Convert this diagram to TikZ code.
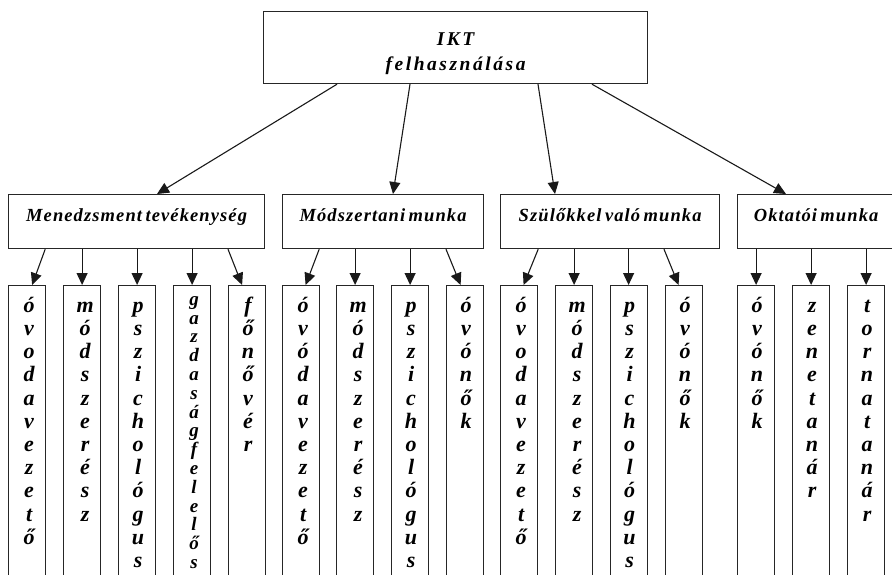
\documentclass[tikz,border=0pt]{standalone}
\usepackage{fontspec}
\setmainfont{Liberation Serif}[BoldItalicFont={Liberation Serif Bold Italic}]
\newfontfamily\topfont[LetterSpace=13]{Liberation Serif}
\newfontfamily\midfont[LetterSpace=6,WordSpace=0.6]{Liberation Serif}
\usetikzlibrary{arrows.meta,calc}
\begin{document}
\begin{tikzpicture}[x=1pt,y=-1pt,
  box/.style={draw=black!85, line width=1.2pt, inner sep=0pt, anchor=north west},
  topbox/.style={box, minimum width=384pt, minimum height=72pt, align=center,
    font=\topfont\bfseries\itshape\fontsize{19.5}{25}\selectfont},
  midbox/.style={box, minimum height=54pt, text height=12pt, text depth=12pt,
    font=\midfont\bfseries\itshape\fontsize{18.5}{22}\selectfont},
  colbox/.style={box, minimum width=37pt, minimum height=310pt},
  letters/.style={anchor=north, inner sep=0pt, align=center,
    font=\bfseries\itshape\fontsize{22}{23.2}\selectfont},
  smallletters/.style={anchor=north, inner sep=0pt, align=center,
    font=\bfseries\itshape\fontsize{19}{18.8}\selectfont},
  link/.style={line width=1.1pt, draw=black!90, -{Triangle[length=12pt,width=11pt]}}
]
\useasboundingbox (0,0) rectangle (892,574);
\clip (0,0) rectangle (892,574);

\node[topbox] (top) at (263,11) {\rule{0pt}{25pt}IKT\\felhasználása};

\node[midbox, minimum width=256pt] (m1) at (8,194) {Menedzsment tevékenység};
\node[midbox, minimum width=201pt] (m2) at (282,194) {Módszertani munka};
\node[midbox, minimum width=219pt] (m3) at (500,194) {Szülőkkel való munka};
\node[midbox, minimum width=157pt] (m4) at (737,194) {Oktatói munka};

\foreach \n/\x in {a1/8,a2/63,a3/118,a4/173,a5/228,b1/282,b2/336,b3/391,b4/446,
                   c1/500,c2/555,c3/609.5,c4/665,d1/737,d2/792,d3/847}
  \node[colbox] (\n) at (\x,285) {};

% letters
\node[letters] (ta1) at ($(a1.north)+(2,11)$) {\rule{0pt}{16pt}ó\\v\\o\\d\\a\\v\\e\\z\\e\\t\\ő};
\node[letters] (ta2) at ($(a2.north)+(3,11)$) {\rule{0pt}{16pt}m\\ó\\d\\s\\z\\e\\r\\é\\s\\z};
\node[letters] (ta3) at ($(a3.north)+(1,11)$) {\rule{0pt}{16pt}p\\s\\z\\i\\c\\h\\o\\l\\ó\\g\\u\\s};
\node[smallletters] (ta4) at ($(a4.north)+(2,7)$) {\rule{0pt}{13pt}g\\a\\z\\d\\a\\s\\á\\g\\f\\e\\l\\e\\l\\ő\\s};
\node[letters] (ta5) at ($(a5.north)+(1,11)$) {\rule{0pt}{16pt}f\\ő\\n\\ő\\v\\é\\r};

\node[letters] (tb1) at ($(b1.north)+(2,11)$) {\rule{0pt}{16pt}ó\\v\\ó\\d\\a\\v\\e\\z\\e\\t\\ő};
\node[letters] (tb2) at ($(b2.north)+(3,11)$) {\rule{0pt}{16pt}m\\ó\\d\\s\\z\\e\\r\\é\\s\\z};
\node[letters] (tb3) at ($(b3.north)+(1,11)$) {\rule{0pt}{16pt}p\\s\\z\\i\\c\\h\\o\\l\\ó\\g\\u\\s};
\node[letters] (tb4) at ($(b4.north)+(1,11)$) {\rule{0pt}{16pt}ó\\v\\ó\\n\\ő\\k};

\node[letters] (tc1) at ($(c1.north)+(2,11)$) {\rule{0pt}{16pt}ó\\v\\o\\d\\a\\v\\e\\z\\e\\t\\ő};
\node[letters] (tc2) at ($(c2.north)+(3,11)$) {\rule{0pt}{16pt}m\\ó\\d\\s\\z\\e\\r\\é\\s\\z};
\node[letters] (tc3) at ($(c3.north)+(1,11)$) {\rule{0pt}{16pt}p\\s\\z\\i\\c\\h\\o\\l\\ó\\g\\u\\s};
\node[letters] (tc4) at ($(c4.north)+(1,11)$) {\rule{0pt}{16pt}ó\\v\\ó\\n\\ő\\k};

\node[letters] (td1) at ($(d1.north)+(1,11)$) {\rule{0pt}{16pt}ó\\v\\ó\\n\\ő\\k};
\node[letters] (td2) at ($(d2.north)+(1,11)$) {\rule{0pt}{16pt}z\\e\\n\\e\\t\\a\\n\\á\\r};
\node[letters] (td3) at ($(d3.north)+(1,11)$) {\rule{0pt}{16pt}t\\o\\r\\n\\a\\t\\a\\n\\á\\r};

% top connectors
\draw[link] ($(top.south west)+(74,0)$) -- ($(m1.north west)+(149,0)$);
\draw[link] ($(top.south west)+(147,0)$) -- ($(m2.north west)+(111,0)$);
\draw[link] ($(top.south west)+(275,0)$) -- ($(m3.north west)+(55,0)$);
\draw[link] ($(top.south west)+(329,0)$) -- ($(m4.north west)+(49,0)$);

% second level connectors
\draw[link] ($(a1.east |- m1.south)+(-1,0)$) -- ($(a1.north)+(5,0)$);
\draw[link] (a2 |- m1.south) -- (a2.north);
\draw[link] (a3 |- m1.south) -- (a3.north);
\draw[link] (a4 |- m1.south) -- (a4.north);
\draw[link] (a5.west |- m1.south) -- ($(a5.north)+(-5,0)$);

\draw[link] ($(b1.east |- m2.south)+(-1,0)$) -- ($(b1.north)+(4.5,0)$);
\draw[link] (b2 |- m2.south) -- (b2.north);
\draw[link] (b3 |- m2.south) -- (b3.north);
\draw[link] (b4.west |- m2.south) -- ($(b4.north)+(-4.5,0)$);

\draw[link] (c1.east |- m3.south) -- ($(c1.north)+(4.5,0)$);
\draw[link] (c2 |- m3.south) -- (c2.north);
\draw[link] (c3 |- m3.south) -- (c3.north);
\draw[link] ($(c4.west |- m3.south)+(-1,0)$) -- ($(c4.north)+(-5.5,0)$);

\draw[link] (d1 |- m4.south) -- (d1.north);
\draw[link] (d2 |- m4.south) -- (d2.north);
\draw[link] (d3 |- m4.south) -- (d3.north);
\end{tikzpicture}
\end{document}
